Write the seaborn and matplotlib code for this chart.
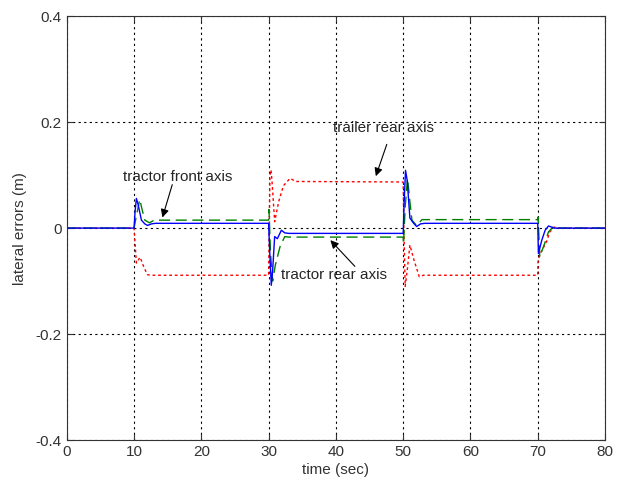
import matplotlib
matplotlib.use("Agg")
import matplotlib.pyplot as plt
import seaborn as sns
import pandas as pd

# ---- data ----
t_blue = [0, 10, 10.15, 10.35, 10.6, 11.1, 11.6, 12.0, 12.6, 13.2,
          30, 30.15, 30.4, 30.6, 30.9, 31.3, 31.9, 32.4, 33.0,
          50, 50.15, 50.35, 50.6, 51.0, 51.5, 52.0, 52.6, 53.2,
          70, 70.1, 70.6, 71.1, 71.6, 72.5, 80]
v_blue = [0, 0, 0.03, 0.056, 0.045, 0.015, 0.008, 0.005, 0.008, 0.009,
          0.009, -0.04, -0.108, -0.08, -0.016, -0.02, -0.004, -0.009, -0.010,
          -0.010, 0.05, 0.109, 0.09, 0.019, 0.010, 0.003, 0.008, 0.009,
          0.009, -0.048, -0.023, -0.004, 0.004, 0.0, 0.0]

t_green = [0, 10, 10.3, 10.85, 11.2, 11.6, 12.3, 13.0,
           30, 30.05, 30.3, 30.6, 31.0, 31.7, 32.4, 33.0,
           50, 50.05, 50.3, 50.65, 51.0, 51.3, 52.0, 52.8,
           70, 70.05, 70.3, 71.0, 71.6, 72.3, 73.0, 80]
v_green = [0, 0, 0.02, 0.054, 0.035, 0.015, 0.010, 0.015,
           0.015, 0.035, -0.05, -0.10, -0.07, -0.035, -0.016, -0.017,
           -0.017, -0.03, 0.04, 0.094, 0.05, 0.015, 0.005, 0.016,
           0.016, 0.021, -0.054, -0.03, -0.007, 0.002, 0.0, 0.0]

t_red = [0, 10, 10.35, 10.9, 11.5, 12.0, 12.5,
         30, 30.2, 30.35, 30.5, 30.9, 31.5, 32.2, 33.2, 34.0,
         50, 50.1, 50.3, 50.6, 51.0, 51.6, 52.4, 53.0,
         70, 70.05, 70.5, 71.3, 71.8, 72.5, 73.0, 80]
v_red = [0, 0, -0.066, -0.055, -0.075, -0.088, -0.089,
         -0.089, 0.10, 0.11, 0.09, 0.012, 0.05, 0.08, 0.094, 0.088,
         0.087, 0.0, -0.11, -0.08, -0.032, -0.06, -0.092, -0.089,
         -0.089, -0.06, -0.045, -0.026, -0.007, 0.002, 0.0, 0.0]

x_ticks = [0, 10, 20, 30, 40, 50, 60, 70, 80]
y_ticks = [-0.4, -0.2, 0, 0.2, 0.4]
y_tick_labels = ["-0.4", "-0.2", "0", "0.2", "0.4"]

# ---- plotting ----
sns.set_style("ticks")
plt.rcParams["font.family"] = ["Liberation Sans", "DejaVu Sans"]

fig = plt.figure(figsize=(6.18, 4.90), dpi=100)
ax = fig.add_axes([0.108, 0.102, 0.871, 0.865])

df_b = pd.DataFrame({"t": t_blue, "v": v_blue})
df_g = pd.DataFrame({"t": t_green, "v": v_green})
df_r = pd.DataFrame({"t": t_red, "v": v_red})

sns.lineplot(data=df_r, x="t", y="v", ax=ax, color="#ff0000", lw=1.0,
             linestyle=(0, (2, 2)), estimator=None, sort=False)
sns.lineplot(data=df_g, x="t", y="v", ax=ax, color="#008000", lw=1.0,
             linestyle=(0, (8, 4)), estimator=None, sort=False)
sns.lineplot(data=df_b, x="t", y="v", ax=ax, color="#0000ff", lw=1.0,
             estimator=None, sort=False)

ax.set_xlim(0, 80)
ax.set_ylim(-0.4, 0.4)
ax.set_xticks(x_ticks)
ax.set_yticks(y_ticks)
ax.set_yticklabels(y_tick_labels)
ax.grid(True, color="black", linestyle=(0, (2, 3)), linewidth=0.8)
ax.set_axisbelow(True)
ax.tick_params(direction="in", top=True, right=True, length=4,
               labelsize=11, colors="#333333", labelcolor="#333333")
for s in ax.spines.values():
    s.set_color("#333333")
    s.set_linewidth(0.8)

ax.set_xlabel("time (sec)", fontsize=11, color="#333333", labelpad=3)
ax.set_ylabel("lateral errors (m)", fontsize=11, color="#333333", labelpad=6)

arrow = dict(arrowstyle="-|>", color="black", lw=0.8, mutation_scale=12)
ax.text(8.3, 0.097, "tractor front axis", fontsize=11, va="center", ha="left")
ax.annotate("", xy=(14.1, 0.015), xytext=(15.8, 0.087), arrowprops=arrow)

ax.text(39.6, 0.189, "trailer rear axis", fontsize=11, va="center", ha="left")
ax.annotate("", xy=(45.8, 0.093), xytext=(47.7, 0.163), arrowprops=arrow)

ax.text(31.9, -0.089, "tractor rear axis", fontsize=11, va="center", ha="left")
ax.annotate("", xy=(38.9, -0.019), xytext=(43.1, -0.076), arrowprops=arrow)

fig.savefig("out.png", dpi=100)
